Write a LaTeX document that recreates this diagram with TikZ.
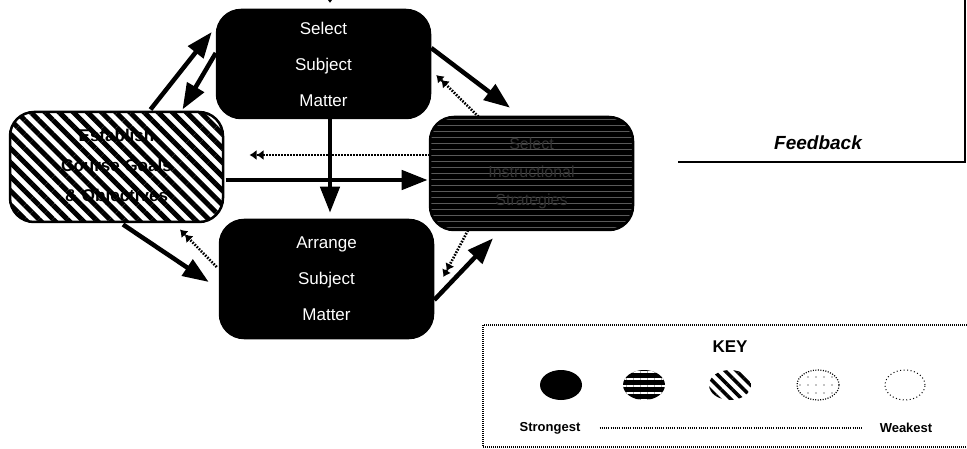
\documentclass[tikz,border=0pt]{standalone}
\usepackage{fontspec}
\setmainfont{Liberation Sans}
\usetikzlibrary{arrows.meta,patterns.meta,calc,shapes.geometric}
\tikzset{
  boxbase/.style={rounded corners=24pt, draw=black, line width=2.5pt, inner sep=0pt, align=center},
  solidbox/.style={boxbase, fill=black, text=white, font=\fontsize{17}{36}\selectfont},
  hatchbox/.style={boxbase, preaction={fill=white}, pattern={Lines[angle=-45,distance=10pt,line width=5pt]}, pattern color=black, text=black, font=\bfseries\fontsize{17}{30}\selectfont},
  stripebox/.style={boxbase, preaction={fill=black}, pattern={Lines[angle=0,distance=6pt,line width=0.6pt]}, pattern color=black!65, text=black!80, font=\fontsize{16}{28}\selectfont},
  strongarrow/.style={line width=4.5pt, -{Triangle[length=26pt,width=19pt]}},
  weakarrow/.style={line width=2.6pt, dash pattern=on 1.6pt off 1.4pt, -{Latex[length=7pt,width=10pt]Latex[length=7pt,width=10pt]}},
  keyell/.style={ellipse, minimum width=42pt, minimum height=30pt, inner sep=0pt},
  keytext/.style={font=\bfseries\fontsize{13}{15}\selectfont, inner sep=0pt},
}
\begin{document}
\begin{tikzpicture}[x=1pt,y=-1pt]
\useasboundingbox (0,0) rectangle (967,449);
% boxes
\node[solidbox, minimum width=213pt, minimum height=108pt] (sel) at (323.5,64) {Select\\Subject\\Matter};
\node[hatchbox, minimum width=213pt, minimum height=110pt] (est) at (116.5,167) {Establish\\Course Goals\\\& Objectives};
\node[solidbox, minimum width=213pt, minimum height=118pt] (arr) at (326.5,279) {Arrange\\Subject\\Matter};
\node[stripebox, minimum width=203pt, minimum height=113pt] (strat) at (531.5,173.5) {Select\\Instructional\\Strategies};
% incoming arrow at top
\coordinate (topin) at (330,-20);
\draw[line width=1pt, -{Triangle[length=5pt,width=7pt]}] (topin) -- ([xshift=6.5pt,yshift=6pt]sel.north);
% strong arrows
\draw[strongarrow] ([xshift=34pt]est.north) -- ([xshift=-4pt,yshift=32pt]sel.west);
\draw[strongarrow] ([yshift=11pt]sel.west) -- ([xshift=66pt]est.north);
\draw[strongarrow] ([xshift=6.5pt]sel.south) -- ([xshift=3.5pt,yshift=6pt]arr.north);
\draw[strongarrow] ([yshift=-13pt]est.east) -- ([xshift=-2pt,yshift=-6.5pt]strat.west);
\draw[strongarrow] ([yshift=16pt]sel.east) -- ([xshift=-21.5pt,yshift=9pt]strat.north);
\draw[strongarrow] ([xshift=6.5pt]est.south) -- ([xshift=-10pt,yshift=-3pt]arr.west);
\draw[strongarrow] ([yshift=-21pt]arr.east) -- ([xshift=-38.5pt,yshift=-8pt]strat.south);
% weak (feedback) arrows
\draw[weakarrow] ([yshift=18.5pt]strat.west) -- ([xshift=24pt,yshift=12pt]est.east);
\draw[weakarrow] ([xshift=-53pt]strat.north) -- ([xshift=5pt,yshift=-11pt]sel.east);
\draw[weakarrow] ([xshift=-2pt,yshift=12pt]arr.west) -- ([xshift=63.5pt,yshift=-5pt]est.south);
\draw[weakarrow] ([xshift=-63.5pt]strat.south) -- ([xshift=9pt,yshift=2pt]arr.east);
% feedback line
\coordinate (fbstart) at (678,162);
\coordinate (fbcorner) at (965,162);
\coordinate (fbtop) at (965,-5);
\draw[line width=1.6pt] (fbstart) -- (fbcorner) -- (fbtop);
\node[font=\bfseries\itshape\fontsize{19}{22}\selectfont] (fb) at (818,143) {Feedback};
% key
\draw[line width=1.2pt, dash pattern=on 1pt off 1pt] (975,325) -- (483,325) -- (483,447) -- (975,447);
\node[font=\bfseries\fontsize{17}{20}\selectfont] (keyt) at (730,347) {KEY};
\node[keyell, fill=black] (k1) at (561,385) {};
\node[keyell, preaction={fill=black}, pattern={Lines[angle=0,distance=7pt,line width=1.2pt]}, pattern color=white] (k2) at (644,385) {};
\node[keyell, pattern={Lines[angle=-45,distance=8pt,line width=3.5pt]}, pattern color=black] (k3) at (730,385) {};
\node[keyell, draw, line width=1.2pt, dash pattern=on 1pt off 1.5pt, pattern={Dots[distance=8pt,radius=0.6pt]}, pattern color=black] (k4) at (818,385) {};
\node[keyell, draw, line width=1pt, dash pattern=on 1pt off 2.5pt, minimum width=40pt] (k5) at (905,385) {};
\node[keytext] (strong) at (550,428) {Strongest};
\node[keytext] (weak) at (906,428) {Weakest};
\draw[line width=1.2pt, dash pattern=on 1pt off 1.2pt] ([xshift=19pt]strong.east) -- ([xshift=-18pt]weak.west);
\end{tikzpicture}
\end{document}
